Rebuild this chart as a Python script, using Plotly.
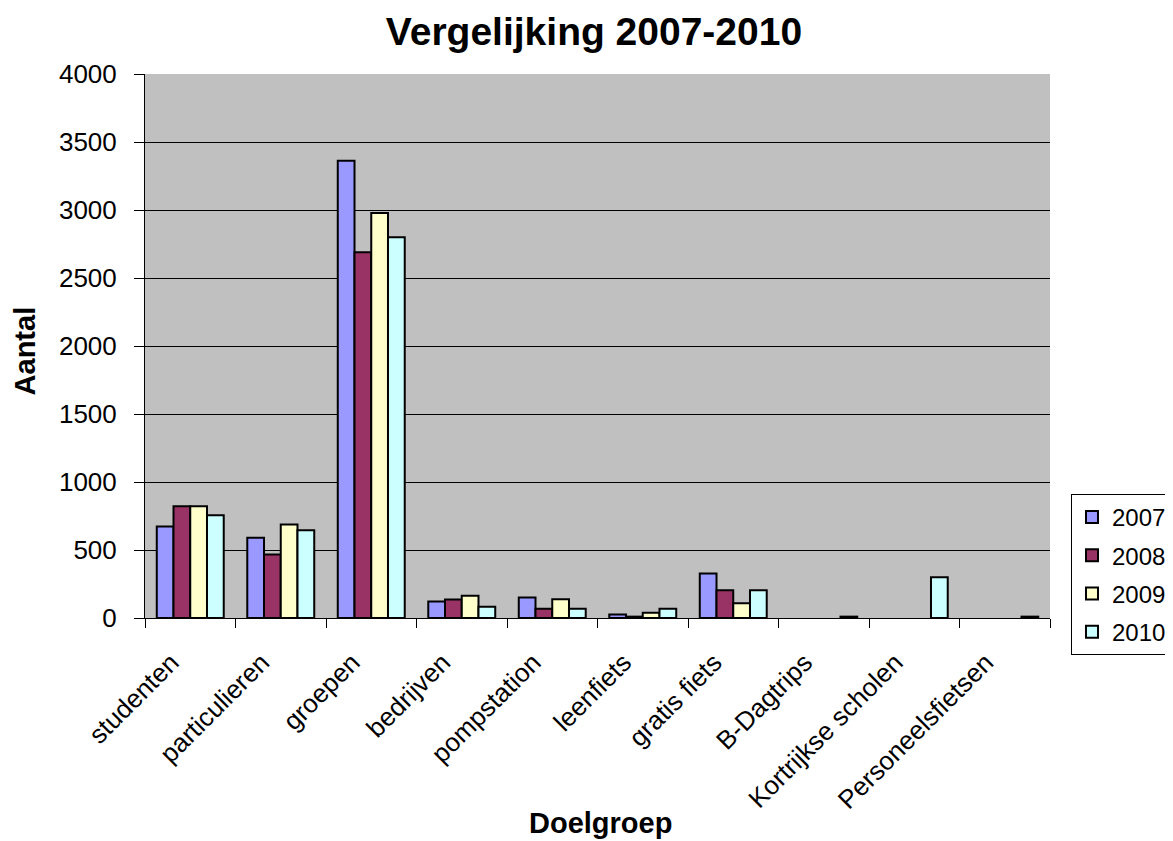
import plotly.graph_objects as go

categories = ["studenten", "particulieren", "groepen", "bedrijven", "pompstation",
              "leenfiets", "gratis fiets", "B-Dagtrips", "Kortrijkse scholen", "Personeelsfietsen"]
years = ["2007", "2008", "2009", "2010"]
v2007 = [672, 590, 3363, 121, 151, 26, 327, None, None, None]
v2008 = [822, 467, 2689, 136, 68, 10, 204, None, None, None]
v2009 = [822, 687, 2978, 163, 138, 38, 109, None, None, None]
v2010 = [756, 645, 2799, 82, 68, 68, 204, 10, 300, 10]
colors = ["#9999FF", "#993366", "#FFFFCC", "#CCFFFF"]

fig = go.Figure()
for i, (y, vals) in enumerate(zip(years, [v2007, v2008, v2009, v2010])):
    fig.add_trace(go.Bar(x=categories, y=vals, name=y, legendgroup=y,
                         marker=dict(color=colors[i], line=dict(color="black", width=2))))

font = "Liberation Sans, Arial, sans-serif"
# page body has an 8px default margin, compensated in the figure margins
fig.update_layout(
    width=1173, height=841,
    margin=dict(l=137, r=131, t=66, b=231, autoexpand=False),
    paper_bgcolor="white", plot_bgcolor="#C0C0C0",
    barmode="group", bargap=0.26, bargroupgap=0,
    font=dict(family=font, size=24, color="black"),
    title=dict(text="<b>Vergelijking 2007-2010</b>", x=(594 - 8) / 1173, xanchor="center",
               yref="container", y=1 - 23 / 841, yanchor="middle", font=dict(size=39)),
    showlegend=True,
    legend=dict(x=1.0232, xanchor="left", y=0.228, yanchor="top",
                bordercolor="black", borderwidth=1, bgcolor="white",
                font=dict(size=24), tracegroupgap=4, traceorder="grouped"),
    annotations=[
        dict(text="<b>Aantal</b>", xref="paper", yref="paper", x=-(145 - 25) / 905, y=0.49,
             xanchor="center", yanchor="middle", textangle=-90, showarrow=False,
             font=dict(size=29)),
        dict(text="<b>Doelgroep</b>", xref="paper", yref="paper", x=0.503, y=(618 - 823) / 544,
             xanchor="center", yanchor="middle", showarrow=False, font=dict(size=29)),
    ],
)
fig.update_xaxes(
    tickangle=-45, tickfont=dict(size=26), ticks="outside", tickson="boundaries",
    ticklen=9, tickcolor="black", showline=True, linecolor="black", linewidth=1,
    showgrid=False, automargin=False, ticklabelstandoff=18, ticklabelshift=-19,
)
fig.update_yaxes(
    range=[0, 4000], dtick=500, tickfont=dict(size=26), ticks="outside", ticklen=10,
    tickcolor="black", showline=True, linecolor="black", linewidth=1,
    showgrid=True, gridcolor="black", gridwidth=1, zeroline=False,
    automargin=False, ticklabelstandoff=12,
)
fig.write_html("out.html")
